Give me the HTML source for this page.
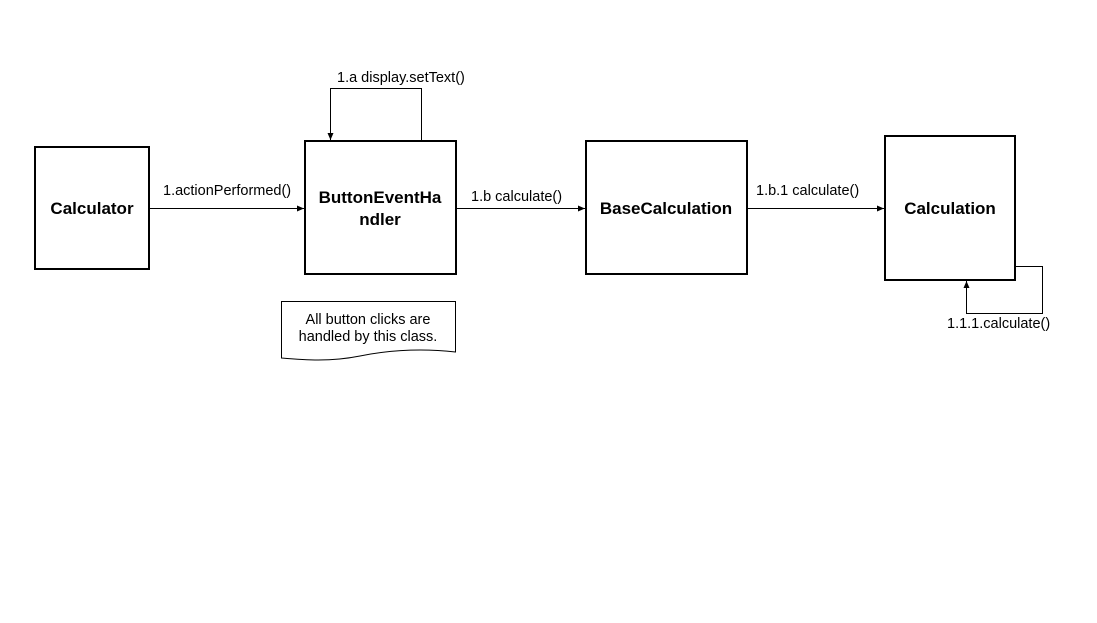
<!DOCTYPE html>
<html><head><style>
body{margin:0;background:#fff;width:1097px;height:623px;overflow:hidden}
svg{display:block}
text{font-family:"Liberation Sans",sans-serif;fill:#000}
.b{font-size:17px;font-weight:bold}
.s{font-size:14.5px}
</style></head><body>
<svg width="1097" height="623" viewBox="0 0 1097 623">
<defs><marker id="a" markerWidth="8" markerHeight="6" refX="7" refY="3" orient="auto" markerUnits="userSpaceOnUse"><path d="M0,0 L7,3 L0,6z" fill="#000"/></marker></defs>
<g fill="#fff" stroke="#000" stroke-width="2">
<rect x="35" y="147" width="114" height="122"/>
<rect x="305" y="141" width="151" height="133"/>
<rect x="586" y="141" width="161" height="133"/>
<rect x="885" y="136" width="130" height="144"/>
</g>
<text class="b" x="92" y="214" text-anchor="middle">Calculator</text>
<text class="b" x="380" y="203" text-anchor="middle">ButtonEventHa</text>
<text class="b" x="380" y="225" text-anchor="middle">ndler</text>
<text class="b" x="666" y="214" text-anchor="middle">BaseCalculation</text>
<text class="b" x="950" y="214" text-anchor="middle">Calculation</text>
<g stroke="#000" stroke-width="1" fill="none">
<line x1="150" y1="208.5" x2="304" y2="208.5" marker-end="url(#a)"/>
<line x1="457" y1="208.5" x2="585" y2="208.5" marker-end="url(#a)"/>
<line x1="748" y1="208.5" x2="884" y2="208.5" marker-end="url(#a)"/>
<polyline points="421.5,140 421.5,88.5 330.5,88.5 330.5,140" marker-end="url(#a)"/>
<polyline points="1016,266.5 1042.5,266.5 1042.5,313.5 966.5,313.5 966.5,281" marker-end="url(#a)"/>
<path d="M281.5,301.5 H455.5 V352 C420,348 390,350 360,356 C330,362 305,360 281.5,358 Z"/>
</g>
<text class="s" x="163" y="195">1.actionPerformed()</text>
<text class="s" x="471" y="201">1.b calculate()</text>
<text class="s" x="756" y="195">1.b.1 calculate()</text>
<text class="s" x="337" y="82">1.a display.setText()</text>
<text class="s" x="947" y="328">1.1.1.calculate()</text>
<text class="s" x="368" y="324" text-anchor="middle">All button clicks are</text>
<text class="s" x="368" y="341" text-anchor="middle">handled by this class.</text>
</svg>
</body></html>
